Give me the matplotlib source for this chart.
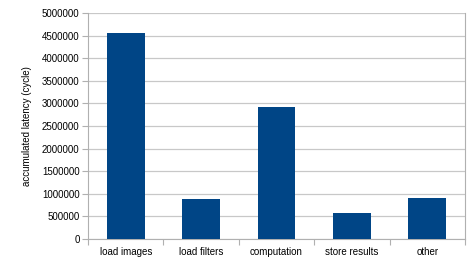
from matplotlib import pyplot as plt

# accumulated latency per phase
categories = ["load images", "load filters", "computation", "store results", "other"]
latency = [4560000, 895000, 2920000, 570000, 900000]
yticks = list(range(0, 5000001, 500000))

fig = plt.figure(figsize=(4.74, 2.66), dpi=100)
ax = fig.add_axes([88 / 474, 1 - 239 / 266, (465 - 88) / 474, (239 - 13) / 266])
plt.rcParams['font.family'] = ['Liberation Sans', 'DejaVu Sans']

x = range(len(categories))
ax.bar(x, latency, width=0.5, color="#004586", zorder=3)

ax.set_xlim(-0.5, len(categories) - 0.5)
ax.set_ylim(0, 5000000)
ax.set_yticks(yticks)
ax.set_yticklabels([str(v) for v in yticks], fontsize=7, family=['Liberation Sans'])
ax.yaxis.grid(True, color="#c8c8c8", linewidth=0.9, zorder=0)

# category labels centred, tick marks on the category borders
ax.set_xticks([i + 0.5 for i in range(-1, len(categories))])
ax.set_xticklabels([])
ax.set_xticks(list(x), minor=True)
ax.set_xticklabels(categories, minor=True, fontsize=7, family=['Liberation Sans'])
ax.tick_params(axis="x", which="minor", length=0, pad=6)
ax.tick_params(axis="x", which="major", length=4, color="#b0b0b0")
ax.tick_params(axis="y", length=4, color="#b0b0b0", pad=2)

for side in ["left", "right", "bottom"]:
    ax.spines[side].set_color("#b0b0b0")
ax.spines["top"].set_visible(False)

ax.set_ylabel("accumulated latency (cycle)", fontsize=7, family=['Liberation Sans'], labelpad=7)

fig.savefig("out.png", dpi=100)
